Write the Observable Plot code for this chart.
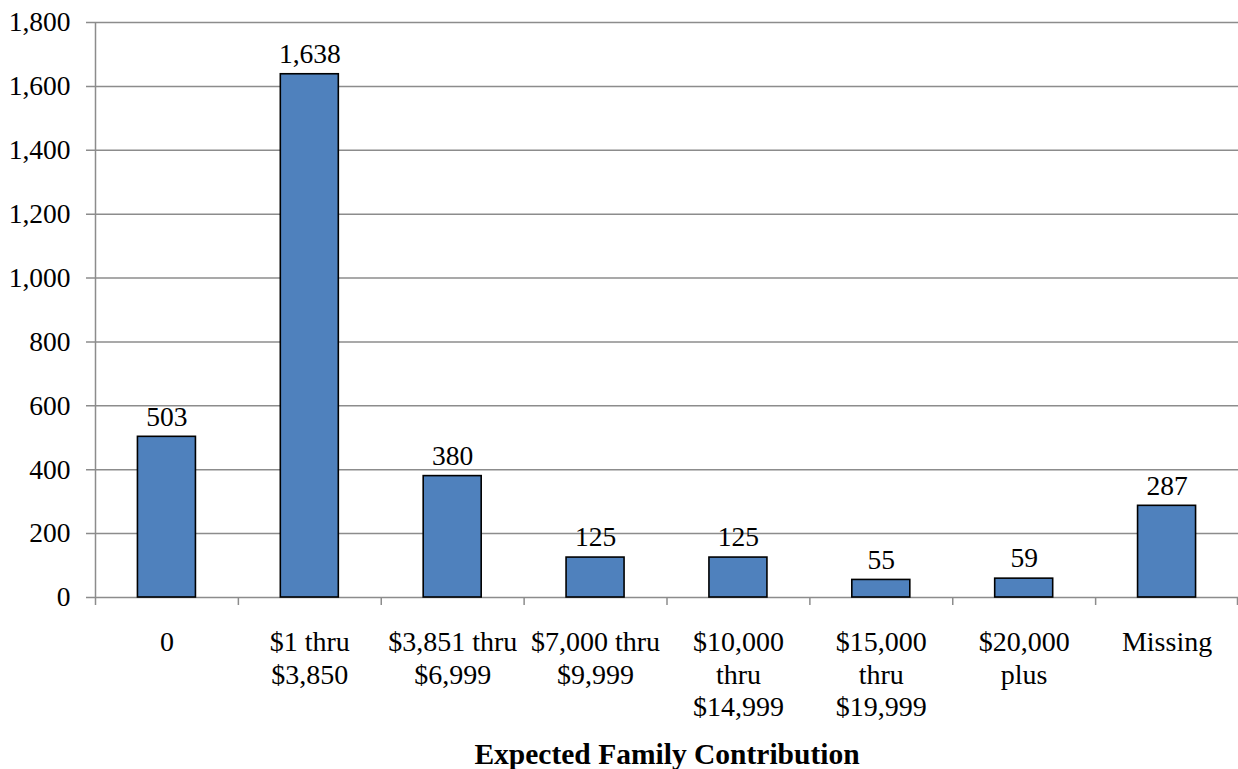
<!DOCTYPE html>
<html>
<head>
<meta charset="utf-8">
<script src="https://cdn.jsdelivr.net/npm/d3@7"></script>
<script src="https://cdn.jsdelivr.net/npm/@observablehq/plot@0.6"></script>
<style>
  html, body { margin: 0; padding: 0; background: #fff; }
  #chart { width: 1238px; height: 769px; }
</style>
</head>
<body>
<div id="chart"></div>
<script>
const categories = ["0", "$1 thru\n$3,850", "$3,851 thru\n$6,999", "$7,000 thru\n$9,999", "$10,000\nthru\n$14,999", "$15,000\nthru\n$19,999", "$20,000\nplus", "Missing"];
const counts = [503, 1638, 380, 125, 125, 55, 59, 287];
const labels = ["503", "1,638", "380", "125", "125", "55", "59", "287"];
const yTicks = [0, 200, 400, 600, 800, 1000, 1200, 1400, 1600, 1800];
const xTitle = "Expected Family Contribution";

const data = categories.map((c, i) => ({category: c, count: counts[i], label: labels[i]}));

const W = 1238, H = 769;
const mL = 95, mR = 0, mT = 22, mB = 172;
const bw = (W - mL - mR) / categories.length;
const barW = 58;
const inset = (bw - barW) / 2;
const font = "'Liberation Serif', 'Times New Roman', serif";
const gridColor = "#8c8c8c";

const chart = Plot.plot({
  width: W,
  height: H,
  marginLeft: mL,
  marginRight: mR,
  marginTop: mT,
  marginBottom: mB,
  style: {fontFamily: font, fontSize: "27px", color: "#000", background: "#fff"},
  x: {domain: categories, padding: 0, round: false, axis: null},
  y: {domain: [0, 1800], axis: null},
  marks: [
    Plot.gridY(yTicks, {stroke: gridColor, strokeOpacity: 1, strokeWidth: 1.5, insetLeft: -9}),
    Plot.axisY(yTicks, {tickSize: 0, tickPadding: 25, tickFormat: d3.format(","), fontSize: 27.5, fill: "#000", label: null}),
    Plot.ruleX([categories[0]], {dx: -bw / 2, stroke: gridColor, strokeWidth: 1.5, insetBottom: -8}),
    Plot.ruleX(categories.slice(1), {y1: 0, y2: 0, dx: -bw / 2, stroke: gridColor, strokeWidth: 1.5, insetBottom: -8}),
    Plot.ruleX([categories[categories.length - 1]], {y1: 0, y2: 0, dx: bw / 2 - 1, stroke: gridColor, strokeWidth: 1.5, insetBottom: -8}),
    Plot.barY(data, {x: "category", y: "count", fill: "#4f81bd", stroke: "#000", strokeWidth: 1.6, insetLeft: inset, insetRight: inset}),
    Plot.text(data, {x: "category", y: "count", text: "label", dy: -20, fontSize: 27.5, fill: "#000"}),
    Plot.text(data, {x: "category", y: 0, text: "category", lineAnchor: "top", dy: 31, lineHeight: 1.15, fontSize: 28, fill: "#000"}),
    Plot.text([xTitle], {frameAnchor: "bottom", dy: 166, text: d => d, fontWeight: "bold", fontSize: 29.5, fill: "#000", lineAnchor: "bottom"})
  ]
});
document.getElementById("chart").appendChild(chart);
</script>
</body>
</html>
